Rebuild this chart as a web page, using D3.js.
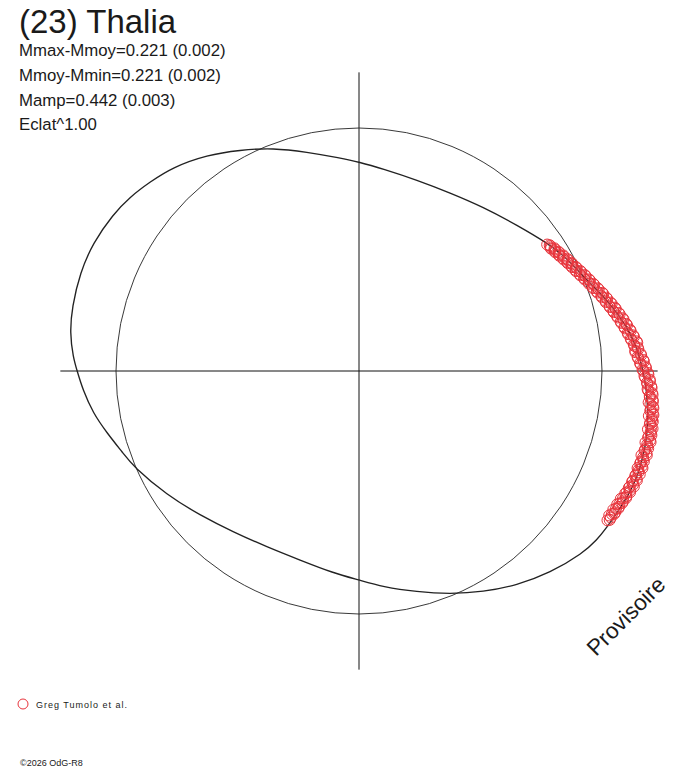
<!DOCTYPE html>
<html>
<head>
<meta charset="utf-8">
<script src="https://cdn.jsdelivr.net/npm/d3@7"></script>
<style>
  html, body { margin: 0; padding: 0; background: #fff; }
  svg { display: block; }
  text { font-family: "Liberation Sans", Arial, sans-serif; fill: #1a1a1a; }
</style>
</head>
<body>
<svg id="chart" width="688" height="768"></svg>
<script>
// ---------- data ----------
const title = "(23) Thalia";
const infoLines = ["Mmax-Mmoy=0.221 (0.002)", "Mmoy-Mmin=0.221 (0.002)", "Mamp=0.442 (0.003)", "Eclat^1.00"];
const legendLabel = "Greg Tumolo et al.";
const copyright = "\u00A92026 OdG-R8";
const watermark = "Provisoire";

// model curve: polar angle (deg, counter-clockwise from east) and relative radius (1 = reference circle)
const curveAngle = [0.2, 4.9, 9.3, 14.1, 18.8, 23.9, 29.6, 33.4, 42.7, 52.9, 62.9, 73.1, 83.2, 90, 95.1, 103.4, 111.1, 118.3, 125.1, 132.4, 137.9, 142.8, 147.5, 154.3, 160.6, 167.4, 172.5, 177.2, 180, 183.9, 189.0, 193.8, 199.2, 203.0, 212.9, 222.2, 231.9, 242.4, 252.7, 262.7, 270, 276.3, 284.7, 292.2, 299.3, 306.4, 313.4, 320.9, 324.6, 327.8, 331.2, 334.8, 338.6, 343.2, 347.1, 351.7, 356.2];
const curveRadius = [1.169, 1.148, 1.118, 1.078, 1.035, 0.995, 0.966, 0.942, 0.885, 0.846, 0.823, 0.821, 0.837, 0.860, 0.880, 0.926, 0.984, 1.033, 1.087, 1.136, 1.160, 1.184, 1.200, 1.215, 1.217, 1.210, 1.200, 1.178, 1.160, 1.139, 1.108, 1.068, 1.028, 1.008, 0.941, 0.883, 0.841, 0.817, 0.815, 0.838, 0.860, 0.894, 0.940, 0.991, 1.043, 1.095, 1.144, 1.188, 1.201, 1.206, 1.212, 1.219, 1.226, 1.221, 1.216, 1.202, 1.186];

// observations (Greg Tumolo et al.): angle (deg) and relative radius, two interleaved runs
const obsAngleA = [-31.0, -30.2, -29.5, -28.9, -28.2, -27.6, -27.0, -26.3, -25.7, -25.1, -24.4, -23.8, -23.1, -22.5, -21.8, -21.2, -20.5, -19.9, -19.2, -18.6, -17.9, -17.3, -16.6, -16.0, -15.3, -14.7, -14.0, -13.4, -12.7, -12.1, -11.4, -10.8, -10.1, -9.5, -8.8, -8.2, -7.5, -6.9, -6.2, -5.6, -4.9, -4.3, -3.6, -3.0, -2.3, -1.7, -1.0, -0.4, 0.3, 0.9, 1.6, 2.2, 2.9, 3.5, 4.2, 4.8, 5.5, 6.1, 6.8, 7.4, 8.1, 8.7, 9.4, 10.0, 10.7, 11.3, 12.0, 12.6, 13.3, 13.9, 14.6, 15.2, 15.9, 16.5, 17.2, 17.8, 18.5, 19.1, 19.8, 20.4, 21.1, 21.7, 22.4, 23.0, 23.7, 24.3, 25.0, 25.6, 26.3, 26.9, 27.6, 28.2, 28.9, 29.5, 30.2, 30.8, 31.5, 32.1, 32.8, 33.4, 33.9];
const obsRadiusA = [1.193, 1.199, 1.196, 1.204, 1.200, 1.207, 1.203, 1.211, 1.206, 1.215, 1.209, 1.218, 1.212, 1.221, 1.214, 1.225, 1.217, 1.223, 1.214, 1.228, 1.219, 1.225, 1.213, 1.230, 1.221, 1.227, 1.215, 1.231, 1.222, 1.228, 1.213, 1.225, 1.217, 1.223, 1.207, 1.221, 1.211, 1.218, 1.199, 1.214, 1.201, 1.209, 1.190, 1.204, 1.186, 1.197, 1.175, 1.189, 1.167, 1.179, 1.157, 1.171, 1.148, 1.161, 1.140, 1.151, 1.136, 1.149, 1.126, 1.138, 1.117, 1.128, 1.107, 1.117, 1.096, 1.107, 1.086, 1.095, 1.075, 1.085, 1.065, 1.073, 1.055, 1.062, 1.044, 1.052, 1.032, 1.040, 1.022, 1.029, 1.013, 1.019, 1.002, 1.010, 0.992, 1.000, 0.983, 0.990, 0.975, 0.982, 0.967, 0.974, 0.959, 0.966, 0.952, 0.957, 0.945, 0.950, 0.938, 0.940, 0.933];
const obsAngleB = [-30.7, -30.0, -29.2, -28.6, -27.9, -27.3, -26.6, -26.0, -25.4, -24.7, -24.1, -23.4, -22.8, -22.1, -21.5, -20.8, -20.2, -19.5, -18.9, -18.2, -17.6, -16.9, -16.3, -15.6, -15.0, -14.3, -13.7, -13.0, -12.4, -11.7, -11.1, -10.4, -9.8, -9.1, -8.5, -7.8, -7.2, -6.5, -5.9, -5.2, -4.6, -3.9, -3.3, -2.6, -2.0, -1.3, -0.7, 0.0, 0.6, 1.3, 1.9, 2.6, 3.2, 3.9, 4.5, 5.2, 5.8, 6.5, 7.1, 7.8, 8.4, 9.1, 9.7, 10.4, 11.0, 11.7, 12.3, 13.0, 13.6, 14.3, 14.9, 15.6, 16.2, 16.9, 17.5, 18.2, 18.8, 19.5, 20.1, 20.8, 21.4, 22.1, 22.7, 23.4, 24.0, 24.7, 25.3, 26.0, 26.6, 27.3, 27.9, 28.6, 29.2, 29.9, 30.5, 31.2, 31.8, 32.5, 33.1];
const obsRadiusB = [1.200, 1.189, 1.204, 1.192, 1.208, 1.196, 1.212, 1.199, 1.217, 1.206, 1.222, 1.210, 1.227, 1.213, 1.229, 1.216, 1.231, 1.220, 1.233, 1.218, 1.230, 1.222, 1.234, 1.220, 1.232, 1.224, 1.235, 1.221, 1.232, 1.226, 1.231, 1.217, 1.227, 1.220, 1.225, 1.210, 1.221, 1.207, 1.216, 1.202, 1.212, 1.193, 1.206, 1.188, 1.198, 1.178, 1.191, 1.170, 1.181, 1.160, 1.173, 1.150, 1.163, 1.140, 1.153, 1.138, 1.151, 1.128, 1.140, 1.118, 1.130, 1.108, 1.119, 1.097, 1.109, 1.087, 1.098, 1.076, 1.087, 1.065, 1.076, 1.054, 1.064, 1.044, 1.054, 1.033, 1.042, 1.022, 1.031, 1.012, 1.021, 1.002, 1.011, 0.992, 1.001, 0.983, 0.991, 0.975, 0.982, 0.967, 0.974, 0.959, 0.965, 0.951, 0.957, 0.944, 0.949, 0.937, 0.941];

const refRadius = 1.0;        // reference circle
const axisExtent = 1.229;     // axes run to the maximum radius

// ---------- drawing ----------
const svg = d3.select("#chart");
const cx = 359, cy = 371;
const r = d3.scaleLinear().domain([0, 1]).range([0, 243]);
const toRad = d => (90 - d) * Math.PI / 180; // lineRadial: 0 = north, clockwise

const g = svg.append("g").attr("transform", `translate(${cx},${cy})`);

// axes
g.append("line").attr("x1", -r(axisExtent)).attr("x2", r(axisExtent)).attr("y1", 0).attr("y2", 0)
  .attr("stroke", "#111").attr("stroke-width", 1);
g.append("line").attr("y1", -r(axisExtent)).attr("y2", r(axisExtent)).attr("x1", 0).attr("x2", 0)
  .attr("stroke", "#111").attr("stroke-width", 1);

// reference circle
g.append("circle").attr("r", r(refRadius)).attr("fill", "none")
  .attr("stroke", "#222").attr("stroke-width", 0.9);

// model curve
const curveData = curveAngle.map((a, i) => ({ a, v: curveRadius[i] }));
const radial = d3.lineRadial()
  .angle(d => toRad(d.a))
  .radius(d => r(d.v))
  .curve(d3.curveBasisClosed);
g.append("path").datum(curveData).attr("d", radial)
  .attr("fill", "none").attr("stroke", "#222").attr("stroke-width", 1.35);

// observations
const obs = obsAngleA.map((a, i) => ({ a, v: obsRadiusA[i] }))
  .concat(obsAngleB.map((a, i) => ({ a, v: obsRadiusB[i] })));
g.selectAll("circle.obs").data(obs).join("circle")
  .attr("class", "obs")
  .attr("cx", d => r(d.v) * Math.cos(d.a * Math.PI / 180))
  .attr("cy", d => -r(d.v) * Math.sin(d.a * Math.PI / 180))
  .attr("r", 5.5)
  .attr("fill", "none").attr("stroke", "#e8343c").attr("stroke-width", 1);

// texts
svg.append("text").attr("x", 19).attr("y", 33).attr("font-size", 33).text(title);
svg.selectAll("text.info").data(infoLines).join("text")
  .attr("class", "info").attr("x", 19).attr("y", (d, i) => 56 + i * 24.8)
  .attr("font-size", 16.8).attr("fill", "#222").text(d => d);

svg.append("text").attr("transform", "translate(596,657) rotate(-45)")
  .attr("font-size", 22.5).attr("fill", "#222").text(watermark);

// legend
svg.append("circle").attr("cx", 23).attr("cy", 704).attr("r", 5)
  .attr("fill", "none").attr("stroke", "#e8343c").attr("stroke-width", 1);
svg.append("text").attr("x", 36).attr("y", 708).attr("font-size", 9)
  .attr("letter-spacing", 1).text(legendLabel);

svg.append("text").attr("x", 20).attr("y", 766).attr("font-size", 9).text(copyright);
</script>
</body>
</html>
